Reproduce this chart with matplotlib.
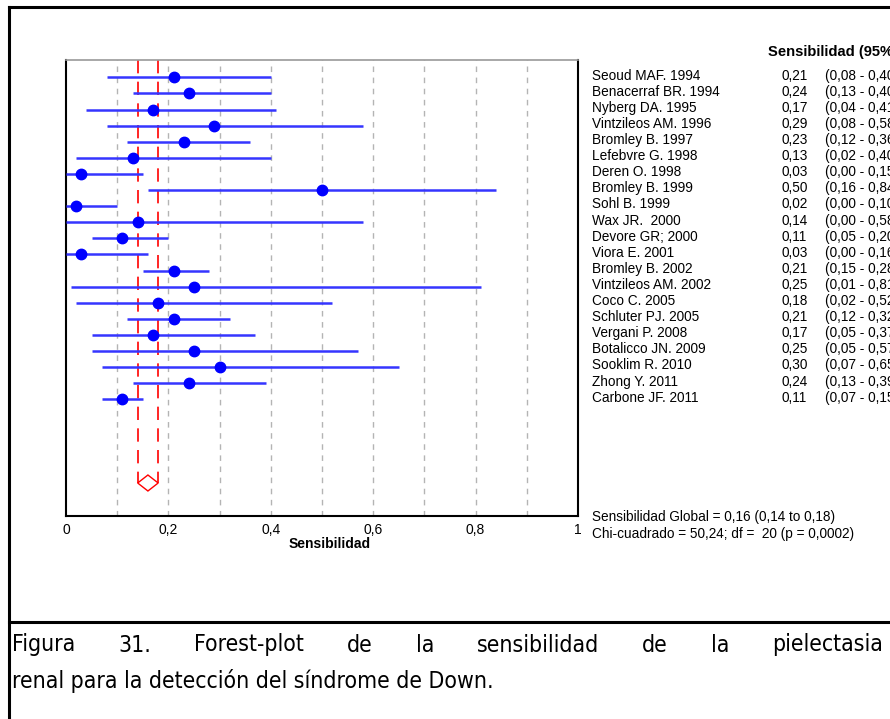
import matplotlib
matplotlib.use("Agg")
import matplotlib.pyplot as plt
from matplotlib.patches import Polygon
from matplotlib.lines import Line2D
import matplotlib.transforms as mtransforms
from matplotlib import font_manager
from matplotlib.font_manager import FontProperties

studies = ["Seoud MAF. 1994", "Benacerraf BR. 1994", "Nyberg DA. 1995", "Vintzileos AM. 1996",
           "Bromley B. 1997", "Lefebvre G. 1998", "Deren O. 1998", "Bromley B. 1999",
           "Sohl B. 1999", "Wax JR.  2000", "Devore GR; 2000", "Viora E. 2001",
           "Bromley B. 2002", "Vintzileos AM. 2002", "Coco C. 2005", "Schluter PJ. 2005",
           "Vergani P. 2008", "Botalicco JN. 2009", "Sooklim R. 2010", "Zhong Y. 2011",
           "Carbone JF. 2011"]
sens = [0.21, 0.24, 0.17, 0.29, 0.23, 0.13, 0.03, 0.50, 0.02, 0.14, 0.11, 0.03,
        0.21, 0.25, 0.18, 0.21, 0.17, 0.25, 0.30, 0.24, 0.11]
lower = [0.08, 0.13, 0.04, 0.08, 0.12, 0.02, 0.00, 0.16, 0.00, 0.00, 0.05, 0.00,
         0.15, 0.01, 0.02, 0.12, 0.05, 0.05, 0.07, 0.13, 0.07]
upper = [0.40, 0.40, 0.41, 0.58, 0.36, 0.40, 0.15, 0.84, 0.10, 0.58, 0.20, 0.16,
         0.28, 0.81, 0.52, 0.32, 0.37, 0.57, 0.65, 0.39, 0.15]
pooled = 0.16
pooled_lo = 0.14
pooled_hi = 0.18
xticks = [0, 0.2, 0.4, 0.6, 0.8, 1]
xtick_labels = ["0", "0,2", "0,4", "0,6", "0,8", "1"]
summary_lines = ["Sensibilidad Global = 0,16 (0,14 to 0,18)",
                 "Chi-cuadrado = 50,24; df =  20 (p = 0,0002)"]
header = "Sensibilidad (95% CI)"
caption1 = "Figura 31. Forest-plot de la sensibilidad de la pielectasia"
caption2 = "renal para la detección del síndrome de Down."

def fmt(v):
    return f"{v:.2f}".replace(".", ",")

W, H = 890, 719
fig = plt.figure(figsize=(W / 100, H / 100), dpi=100)
fig.patch.set_facecolor("white")

def fx(px):
    return px / W

def fy(py):
    return 1 - py / H

CH = "Liberation Sans"

# outer frame lines
fig.add_artist(Line2D([fx(9), fx(9)], [fy(7), 0], color="black", lw=2.2))
fig.add_artist(Line2D([fx(9), 1], [fy(7), fy(7)], color="black", lw=2.2))
fig.add_artist(Line2D([fx(9), 1], [fy(622), fy(622)], color="black", lw=2.2))

# axes
ax_l, ax_r, ax_t, ax_b = 66, 578, 60, 516
ax = fig.add_axes([fx(ax_l), fy(ax_b), (ax_r - ax_l) / W, (ax_b - ax_t) / H])
row0, rowstep = 77.3, 16.1
ax.set_xlim(0, 1)
ax.set_ylim((ax_b - row0) / rowstep, (ax_t - row0) / rowstep)

for g in [0.1 * k for k in range(1, 10)]:
    ax.axvline(g, color="#b4b4b4", lw=1, ls=(0, (4, 4)), zorder=1)

n = len(studies)
ys = list(range(n))
diamond_y = (483 - row0) / rowstep
half_h = 8 / rowstep

ax.vlines([pooled_lo, pooled_hi], ax.get_ylim()[1], diamond_y, colors="red",
          lw=1.2, linestyles=(0, (8, 5)), zorder=2)
ax.add_patch(Polygon([[pooled_lo, diamond_y], [pooled, diamond_y - half_h],
                      [pooled_hi, diamond_y], [pooled, diamond_y + half_h]],
                     closed=True, fill=False, edgecolor="red", lw=1.0, zorder=2))

ax.hlines(ys, lower, upper, colors="#3535ff", lw=1.8, zorder=3)
ax.plot(sens, ys, marker="o", ls="none", ms=7.5, color="#0000ff", zorder=4)

ax.set_xticks(xticks)
ax.set_xticklabels(xtick_labels, fontsize=10, family=CH)
ax.tick_params(axis="x", length=0, pad=5)
ax.set_yticks([])
for s in ["left", "bottom", "right"]:
    ax.spines[s].set_color("black")
    ax.spines[s].set_linewidth(1.5)
ax.spines["top"].set_color("#999999")
ax.spines["top"].set_linewidth(1.2)

ax.text(0.514, -0.062, "Sensibilidad", transform=ax.transAxes, ha="center",
        va="center", fontsize=10, fontweight="bold", family=CH)

# right-side text
trans = mtransforms.blended_transform_factory(fig.transFigure, ax.transData)
fs = 9.8
for i, (name, v, lo, hi) in enumerate(zip(studies, sens, lower, upper)):
    ax.text(fx(592), i - 0.1, name, transform=trans, ha="left", va="center",
            fontsize=fs, family=CH, clip_on=False)
    ax.text(fx(782), i - 0.1, fmt(v), transform=trans, ha="left", va="center",
            fontsize=fs, family=CH, clip_on=False)
    ax.text(fx(825), i - 0.1, f"({fmt(lo)} - {fmt(hi)})", transform=trans, ha="left",
            va="center", fontsize=fs, family=CH, clip_on=False)

fig.text(fx(768), fy(52), header, ha="left", va="center", fontsize=10.6,
         fontweight="bold", family=CH)
fig.text(fx(592), fy(517), summary_lines[0], ha="left", va="center", fontsize=fs,
         family=CH)
fig.text(fx(592), fy(534), summary_lines[1], ha="left", va="center", fontsize=fs,
         family=CH)

# caption font: prefer a narrow/condensed face
cap_prop = None
for f in font_manager.fontManager.ttflist:
    if f.name == "Liberation Sans Narrow" and f.style == "normal" and f.weight in (400, "normal", "regular"):
        cap_prop = FontProperties(fname=f.fname)
        break
if cap_prop is None:
    for f in font_manager.fontManager.ttflist:
        if f.name == "DejaVu Sans" and "Condensed" in f.fname and f.style == "normal" \
                and "Bold" not in f.fname and "Oblique" not in f.fname:
            cap_prop = FontProperties(fname=f.fname)
            break
if cap_prop is None:
    cap_prop = FontProperties(family="Liberation Sans")
cap_prop.set_size(16.5)

renderer = fig.canvas.get_renderer()
words = caption1.split(" ")
x_left, x_right = 12, 883
arts = [fig.text(0, fy(645), w, ha="left", va="center", fontproperties=cap_prop)
        for w in words]
widths = [a.get_window_extent(renderer).width for a in arts]
gap = (x_right - x_left - sum(widths)) / (len(words) - 1)
xpos = x_left
for a, w in zip(arts, widths):
    a.set_x(fx(xpos))
    xpos += w + gap
fig.text(fx(12), fy(681), caption2, ha="left", va="center", fontproperties=cap_prop)

fig.savefig("out.png", dpi=100)
